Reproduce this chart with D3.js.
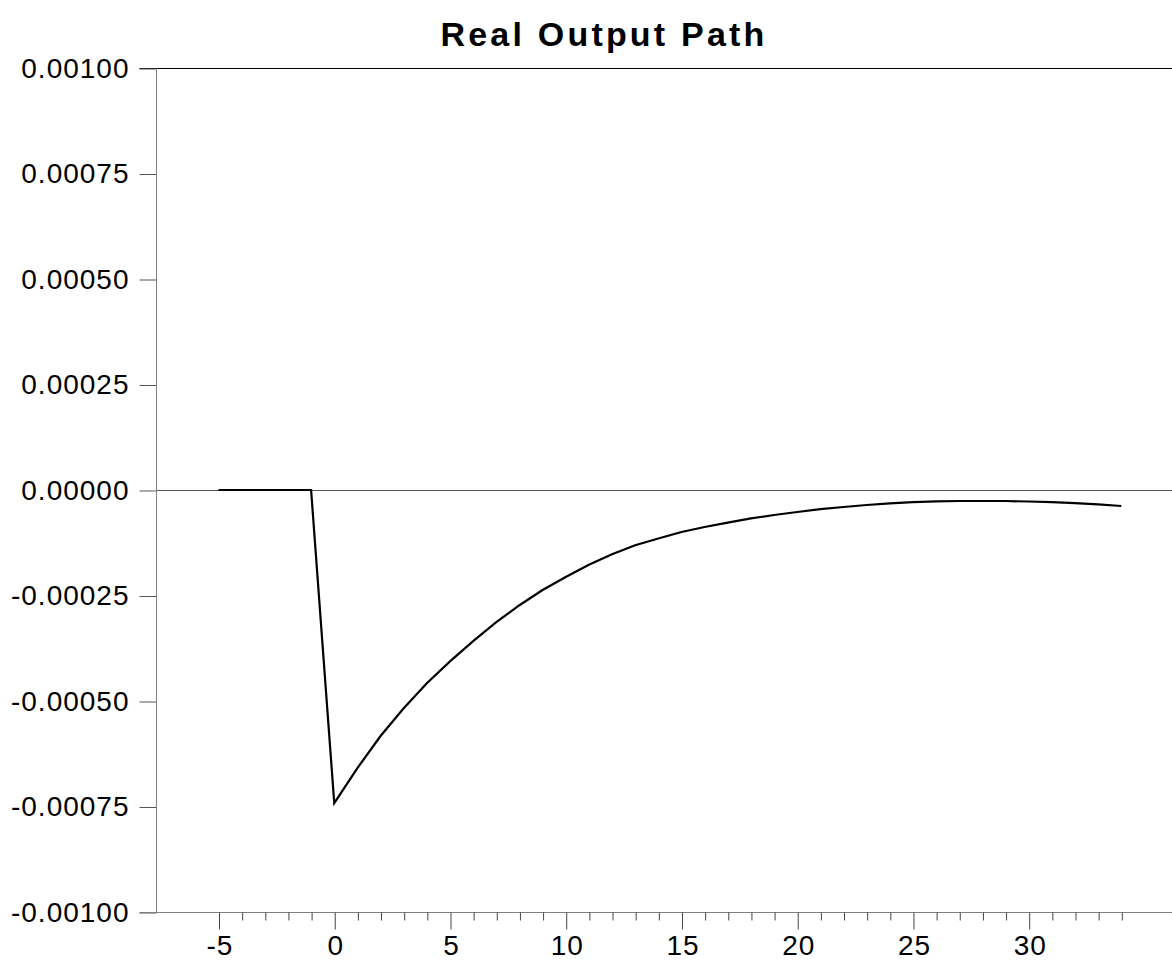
<!DOCTYPE html>
<html>
<head>
<meta charset="utf-8">
<script src="https://cdn.jsdelivr.net/npm/d3@7/dist/d3.min.js"></script>
<style>
  html, body { margin: 0; padding: 0; background: #fff; }
  svg { display: block; }
  text { font-family: "Liberation Sans", Arial, Helvetica, sans-serif; }
</style>
</head>
<body>
<svg id="chart" width="1172" height="962"></svg>
<script>
// ---- data ----
const periods = [-5,-4,-3,-2,-1,0,1,2,3,4,5,6,7,8,9,10,11,12,13,14,15,16,17,18,19,20,21,22,23,24,25,26,27,28,29,30,31,32,33,34];
const realOutput = [0,0,0,0,0,
  -0.000742,-0.000659,-0.000583,-0.000517,-0.000458,-0.000406,-0.000358,-0.000313,-0.000273,-0.000237,
  -0.000206,-0.000177,-0.000152,-0.000131,-0.000115,-0.0000996,-0.0000877,-0.0000773,-0.0000673,-0.0000593,
  -0.0000522,-0.0000455,-0.0000403,-0.0000356,-0.0000315,-0.0000289,-0.0000270,-0.0000261,-0.0000261,-0.0000261,
  -0.0000273,-0.0000289,-0.0000313,-0.0000341,-0.0000379];
const yTickValues = [-0.001,-0.00075,-0.0005,-0.00025,0,0.00025,0.0005,0.00075,0.001];
const xMajorTicks = [-5,0,5,10,15,20,25,30];
const xMinorTicks = periods.filter(p => !xMajorTicks.includes(p));
const titleText = "Real Output Path";

// ---- layout ----
(function () {
const svg = d3.select("#chart");
const pL = 156, pR = 1172, pT = 68, pB = 912;
const x = d3.scaleLinear().domain([-7.7, 36.19]).range([pL, pR]);
const y = d3.scaleLinear().domain([-0.001, 0.001]).range([pB, pT]);

const g = svg.append("g").attr("transform", "translate(0.5,0.5)");

// top frame line (black), extends over tick
g.append("line").attr("x1", pL - 17).attr("x2", pR).attr("y1", y(0.001)).attr("y2", y(0.001))
  .attr("stroke", "#000").attr("stroke-width", 1);

// zero line
g.append("line").attr("x1", pL).attr("x2", pR).attr("y1", y(0)).attr("y2", y(0))
  .attr("stroke", "#555").attr("stroke-width", 1);

// left axis
const yAxis = d3.axisLeft(y).tickValues(yTickValues).tickSize(17).tickPadding(10)
  .tickFormat(d => (Math.abs(d) < 1e-12 ? 0 : d).toFixed(5));
const ya = g.append("g").attr("transform", `translate(${pL},0)`).call(yAxis);
ya.select(".domain").remove();
ya.selectAll(".tick line").attr("stroke", "#555");
ya.selectAll(".tick text").attr("font-size", 28).attr("fill", "#000")
  .style("letter-spacing", "1px")
  .style("font-family", '"Liberation Sans", Arial, sans-serif');
g.append("line").attr("x1", pL).attr("x2", pL).attr("y1", pT).attr("y2", pB)
  .attr("stroke", "#808080").attr("stroke-width", 1);

// bottom axis
g.append("line").attr("x1", pL - 17).attr("x2", pR).attr("y1", pB).attr("y2", pB)
  .attr("stroke", "#808080").attr("stroke-width", 1);
const xAxisMajor = d3.axisBottom(x).tickValues(xMajorTicks).tickSize(17).tickPadding(6)
  .tickFormat(d => String(d));
const xa = g.append("g").attr("transform", `translate(0,${pB})`).call(xAxisMajor);
xa.select(".domain").remove();
xa.selectAll(".tick line").attr("stroke", "#444");
xa.selectAll(".tick text").attr("font-size", 28).attr("fill", "#000")
  .attr("dx", "0.5px").style("letter-spacing", "1px")
  .style("font-family", '"Liberation Sans", Arial, sans-serif');
const xAxisMinor = d3.axisBottom(x).tickValues(xMinorTicks).tickSize(8).tickFormat("");
const xm = g.append("g").attr("transform", `translate(0,${pB})`).call(xAxisMinor);
xm.select(".domain").remove();
xm.selectAll(".tick line").attr("stroke", "#444");

// data line
const line = d3.line().x((d, i) => x(periods[i])).y(d => y(d));
svg.append("path").datum(realOutput).attr("d", line)
  .attr("fill", "none").attr("stroke", "#000").attr("stroke-width", 2.2)
  .attr("stroke-linejoin", "miter");

// title
svg.append("text").attr("x", 604).attr("y", 46).attr("text-anchor", "middle")
  .attr("font-size", 34).attr("font-weight", "bold").attr("fill", "#000")
  .style("letter-spacing", "3.2px")
  .text(titleText);
})();
</script>
</body>
</html>
